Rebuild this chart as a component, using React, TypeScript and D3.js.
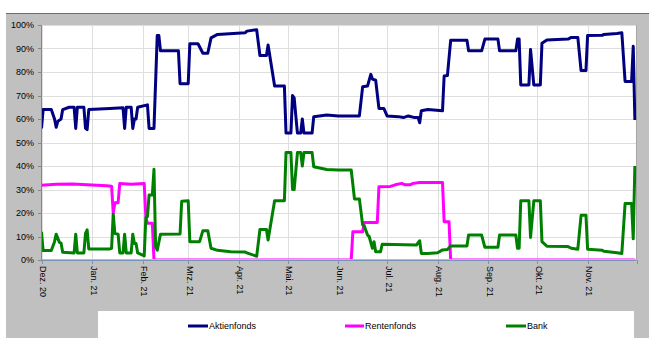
import React from "react";
import * as d3 from "d3";

type P = [string, number];

const monthStarts = ["2020-12-01","2021-01-01","2021-02-01","2021-03-01","2021-04-01","2021-05-01","2021-06-01","2021-07-01","2021-08-01","2021-09-01","2021-10-01","2021-11-01"];
const monthLabels = ["Dez. 20","Jan. 21","Feb. 21","Mrz. 21","Apr. 21","Mai. 21","Jun. 21","Jul. 21","Aug. 21","Sep. 21","Okt. 21","Nov. 21"];
const yTicks = [0,10,20,30,40,50,60,70,80,90,100];
const seriesNames = ["Aktienfonds","Rentenfonds","Bank"];
const seriesColors = ["#000080","#ff00ff","#008000"];

const aktienfonds: P[] = [
  ["2020-12-01",56],["2020-12-02",64],["2020-12-07",64],["2020-12-09",60],["2020-12-10",56.5],["2020-12-11",59],["2020-12-13",60],["2020-12-14",64],
  ["2020-12-18",65],["2020-12-21",65],["2020-12-22",56],["2020-12-23",65],["2020-12-27",65],["2020-12-28",56],["2020-12-29",55.5],["2020-12-30",64],
  ["2021-01-12",64.5],["2021-01-20",64.8],["2021-01-21",56],["2021-01-22",65],["2021-01-25",65],["2021-01-26",56],["2021-01-27",60],["2021-01-28",60],
  ["2021-01-29",65],["2021-02-04",66],["2021-02-05",56],["2021-02-08",56],["2021-02-10",95.5],["2021-02-11",95.5],["2021-02-12",89],["2021-02-23",89],
  ["2021-02-24",75],["2021-03-01",75],["2021-03-02",92],["2021-03-07",92],["2021-03-10",88],["2021-03-13",88],["2021-03-15",94.5],["2021-03-19",96],
  ["2021-04-05",96.7],["2021-04-06",97.4],["2021-04-12",98],["2021-04-14",87],["2021-04-18",87],["2021-04-19",91.5],["2021-04-23",74],["2021-04-29",74],
  ["2021-04-30",54],["2021-05-03",54],["2021-05-04",70],["2021-05-05",69],["2021-05-07",54],["2021-05-09",54],["2021-05-10",60],["2021-05-11",54],
  ["2021-05-16",54],["2021-05-17",61],["2021-05-25",61.7],["2021-06-01",61.3],["2021-06-14",61.3],["2021-06-16",73.7],["2021-06-19",74],["2021-06-21",79],
  ["2021-06-22",77],["2021-06-24",76.5],["2021-06-26",64.5],["2021-06-29",64.5],["2021-07-01",61.3],["2021-07-08",61],["2021-07-11",60.6],["2021-07-14",61.3],
  ["2021-07-18",60.6],["2021-07-20",60.6],["2021-07-21",58.4],["2021-07-22",63.5],["2021-07-26",64],["2021-08-04",63.5],["2021-08-05",78.3],["2021-08-07",78.5],
  ["2021-08-09",93.5],["2021-08-19",93.5],["2021-08-20",89],["2021-08-28",89],["2021-08-30",94],["2021-09-07",94],["2021-09-08",89],["2021-09-18",89],
  ["2021-09-19",94],["2021-09-20",94],["2021-09-21",74.5],["2021-09-26",74.5],["2021-09-27",89.6],["2021-09-29",74.5],["2021-10-03",74.5],["2021-10-04",92.2],
  ["2021-10-07",93.6],["2021-10-20",94],["2021-10-22",94.7],["2021-10-26",94.7],["2021-10-28",80.6],["2021-10-31",80.6],["2021-11-01",95.5],["2021-11-10",95.6],
  ["2021-11-11",96],["2021-11-19",96.4],["2021-11-22",96.7],["2021-11-24",76],["2021-11-28",76],["2021-11-29",91],["2021-11-30",59.6]
];

const rentenfonds: P[] = [
  ["2020-12-01",31.8],["2020-12-10",32.2],["2020-12-20",32.3],["2021-01-01",31.9],["2021-01-10",31.6],["2021-01-13",31.4],["2021-01-14",20],["2021-01-15",24.4],
  ["2021-01-17",24.4],["2021-01-18",32.6],["2021-01-25",32.2],["2021-02-02",32.6],["2021-02-03",18.4],["2021-02-04",15.6],["2021-02-07",15.6],["2021-02-08",0],
  ["2021-06-09",0],["2021-06-10",12],["2021-06-16",12],["2021-06-17",16],["2021-06-25",16],["2021-06-26",31.2],["2021-07-03",31.3],["2021-07-06",32],
  ["2021-07-10",32.6],["2021-07-12",32],["2021-07-15",32],["2021-07-17",32.6],["2021-07-21",33],["2021-08-04",33],["2021-08-05",16.3],["2021-08-08",16.3],
  ["2021-08-09",0],["2021-11-30",0]
];

const bank: P[] = [
  ["2020-12-01",12],["2020-12-02",4],["2020-12-07",4],["2020-12-09",7.8],["2020-12-10",11],["2020-12-12",7.5],["2020-12-13",7.2],["2020-12-14",3.3],
  ["2020-12-21",3],["2020-12-22",11],["2020-12-23",3],["2020-12-27",3],["2020-12-28",11.3],["2020-12-29",12.8],["2020-12-30",4.7],["2021-01-12",4.7],
  ["2021-01-13",5],["2021-01-14",19.5],["2021-01-15",11.3],["2021-01-17",11],["2021-01-18",3],["2021-01-20",3],["2021-01-21",11],["2021-01-22",3],
  ["2021-01-25",3],["2021-01-26",11],["2021-01-27",7],["2021-01-28",7],["2021-01-29",3],["2021-02-01",2.1],["2021-02-02",1.7],["2021-02-03",18],
  ["2021-02-04",18.4],["2021-02-05",27.7],["2021-02-07",27.7],["2021-02-08",38.6],["2021-02-09",5.7],["2021-02-10",4.2],["2021-02-12",11],["2021-02-24",11.1],
  ["2021-02-25",25],["2021-03-01",25.2],["2021-03-02",7.8],["2021-03-08",7.8],["2021-03-10",12.5],["2021-03-13",12.5],["2021-03-15",5],["2021-03-19",4.1],
  ["2021-03-27",3.5],["2021-04-05",3.4],["2021-04-06",3],["2021-04-12",1.6],["2021-04-14",13],["2021-04-18",13],["2021-04-19",8.5],["2021-04-23",25.2],
  ["2021-04-29",25.2],["2021-04-30",45.7],["2021-05-03",45.7],["2021-05-04",30],["2021-05-05",30],["2021-05-07",45.7],["2021-05-09",45.7],["2021-05-10",40],
  ["2021-05-11",45.7],["2021-05-16",45.7],["2021-05-17",39.7],["2021-05-25",38.5],["2021-06-01",38.3],["2021-06-09",38.3],["2021-06-11",26],["2021-06-14",26],
  ["2021-06-16",15],["2021-06-17",14.5],["2021-06-19",10.6],["2021-06-20",10],["2021-06-22",5],["2021-06-23",7.8],["2021-06-24",3.5],["2021-06-27",3.5],
  ["2021-06-28",6.7],["2021-07-19",6.4],["2021-07-21",8.2],["2021-07-22",2.8],["2021-07-26",2.8],["2021-08-01",3.1],["2021-08-04",4.3],["2021-08-07",4.5],
  ["2021-08-09",6],["2021-08-19",6],["2021-08-20",10.6],["2021-08-28",10.6],["2021-08-30",5.4],["2021-09-07",5.4],["2021-09-08",10.6],["2021-09-18",10.6],
  ["2021-09-19",5],["2021-09-20",5],["2021-09-21",25.2],["2021-09-26",25.2],["2021-09-27",9.6],["2021-09-29",25.2],["2021-10-03",25.2],["2021-10-04",7.8],
  ["2021-10-07",5.9],["2021-10-20",5.7],["2021-10-22",5],["2021-10-26",4.6],["2021-10-28",19],["2021-10-31",19],["2021-11-01",4.6],["2021-11-10",4.1],
  ["2021-11-11",3.7],["2021-11-19",3.1],["2021-11-22",2.8],["2021-11-24",24],["2021-11-28",24],["2021-11-29",9],["2021-11-30",40]
];

const seriesData = [aktienfonds, rentenfonds, bank];

const parse = d3.timeParse("%Y-%m-%d");
const FONT = "'Liberation Sans', Arial, sans-serif";

export default function App() {
  const W = 649, H = 338;
  const left = 41.5, right = 636.5, top = 25, bottom = 260;
  const x = d3.scaleTime().domain([parse("2020-12-01")!, parse("2021-12-01")!]).range([left, right]);
  const y = d3.scaleLinear().domain([0, 100]).range([bottom, top]);
  const line = d3.line<P>().x(d => x(parse(d[0])!)).y(d => y(d[1])).curve(d3.curveLinear);

  const legendItems = [
    { x1: 188, x2: 208 },
    { x1: 345, x2: 364 },
    { x1: 506, x2: 526 },
  ];

  return (
    <svg width={W} height={H} style={{ position: "absolute", left: 0, top: 0 }} fontFamily={FONT}>
      <defs>
        <clipPath id="plotClip">
          <rect x={left} y={top} width={right - left} height={bottom - top} />
        </clipPath>
      </defs>
      <rect x={0} y={0} width={W} height={H} fill="#ffffff" />
      <rect x={6} y={13} width={W - 6} height={H - 13} fill="#c0c0c0" />
      <line x1={6} x2={W} y1={13.5} y2={13.5} stroke="#6e6e6e" strokeWidth={1} />
      <rect x={left} y={top} width={right - left} height={bottom - top} fill="#ffffff" />
      {yTicks.map(v => (
        <line key={"hg" + v} x1={left} x2={right} y1={Math.round(y(v)) + 0.5} y2={Math.round(y(v)) + 0.5} stroke="#dedede" strokeWidth={1} />
      ))}
      {monthStarts.map((m, i) => (
        <line key={"vg" + i} x1={Math.round(x(parse(m)!)) + 0.5} x2={Math.round(x(parse(m)!)) + 0.5} y1={top} y2={bottom} stroke="#dedede" strokeWidth={1} />
      ))}
      <line x1={right} x2={right} y1={top} y2={bottom} stroke="#a6a6a6" strokeWidth={1} />
      <g clipPath="url(#plotClip)">
        {seriesData.map((s, i) => (
          <path key={"s" + i} d={line(s) || ""} fill="none" stroke={seriesColors[i]} strokeWidth={3} strokeLinejoin="round" strokeLinecap="butt" />
        ))}
      </g>
      <line x1={left} x2={right} y1={259.5} y2={259.5} stroke="#f2a0c8" strokeWidth={1} />
      <line x1={left} x2={right} y1={260.5} y2={260.5} stroke="#7895b8" strokeWidth={1} />
      <line x1={left} x2={left} y1={top} y2={bottom + 1} stroke="#868686" strokeWidth={1} />
      {yTicks.map(v => (
        <g key={"yt" + v}>
          <line x1={38} x2={left} y1={Math.round(y(v)) + 0.5} y2={Math.round(y(v)) + 0.5} stroke="#868686" strokeWidth={1} />
          <text x={34} y={y(v) + 3.2} fontSize={9} textAnchor="end" fill="#000">{v + "%"}</text>
        </g>
      ))}
      {monthStarts.concat(["2021-12-01"]).map((m, i) => (
        <line key={"xt" + i} x1={Math.round(x(parse(m)!)) + 0.5} x2={Math.round(x(parse(m)!)) + 0.5} y1={260} y2={264} stroke="#7895b8" strokeWidth={1} />
      ))}
      {monthStarts.map((m, i) => (
        <text key={"xl" + i} transform={`translate(${x(parse(m)!) + 1.5},266) rotate(90)`} fontSize={9} textAnchor="start" dominantBaseline="central" fill="#000">{monthLabels[i]}</text>
      ))}
      <rect x={98} y={311} width={536} height={27} fill="#ffffff" />
      {seriesNames.map((n, i) => (
        <g key={"lg" + i}>
          <line x1={legendItems[i].x1} x2={legendItems[i].x2} y1={326} y2={326} stroke={seriesColors[i]} strokeWidth={3} />
          <text x={legendItems[i].x2 + 1} y={326} fontSize={9} dominantBaseline="central" fill="#000">{n}</text>
        </g>
      ))}
    </svg>
  );
}
